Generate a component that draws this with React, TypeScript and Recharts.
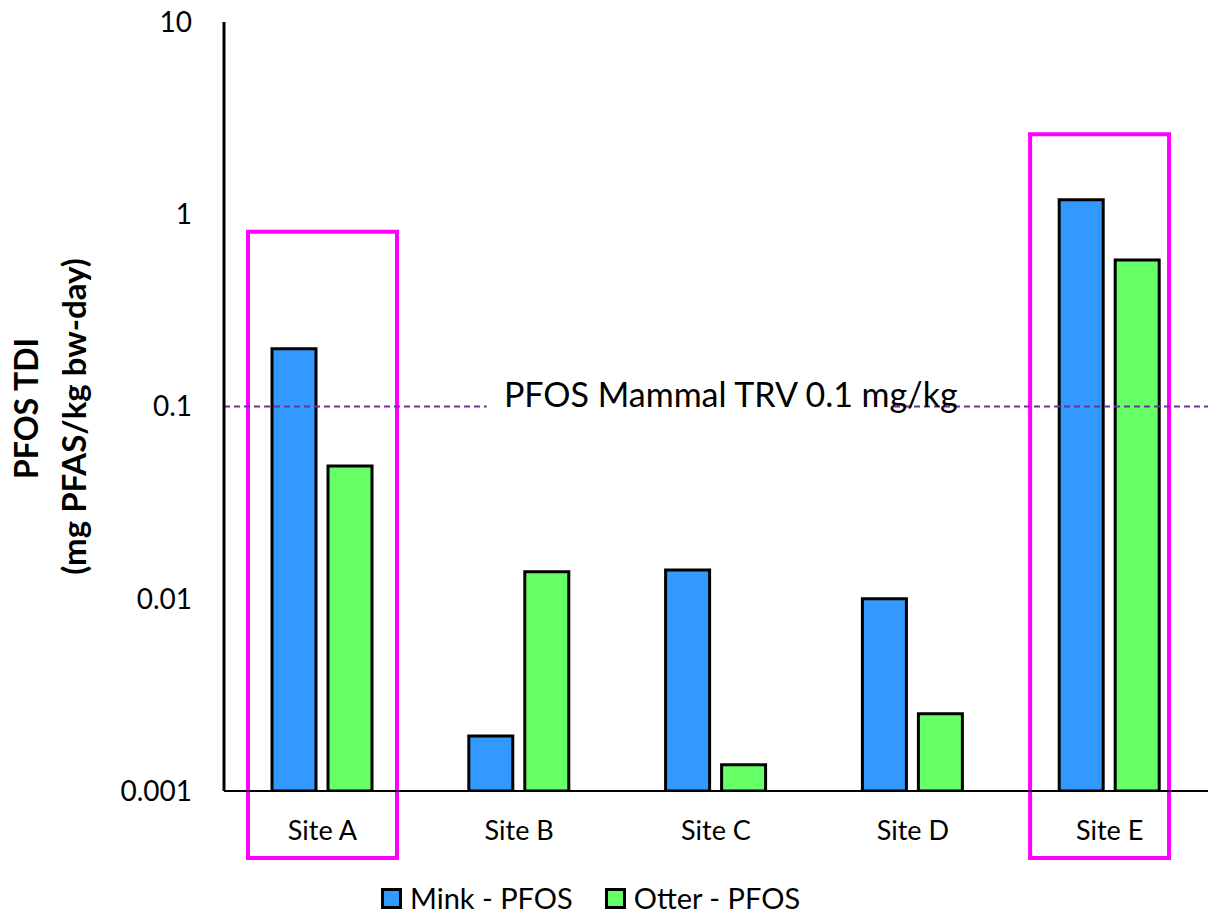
import React from 'react';
import { BarChart, Bar, XAxis, YAxis, ReferenceLine, ReferenceArea, Legend } from 'recharts';

const sites = ['Site A', 'Site B', 'Site C', 'Site D', 'Site E'];
const siteIndex = [0, 1, 2, 3, 4];
const minkPFOS = [0.2, 0.00193, 0.0141, 0.01, 1.19];
const otterPFOS = [0.049, 0.0138, 0.00137, 0.00252, 0.578];
const yTicks = [0.001, 0.01, 0.1, 1, 10];
const trvValue = 0.1;
const trvLabel = 'PFOS Mammal TRV 0.1 mg/kg';
const highlightA = { x1: -0.378, x2: 0.379, y1: 0.000448, y2: 0.81 };
const highlightE = { x1: 3.596, x2: 4.302, y1: 0.000448, y2: 2.61 };

const data = sites.map((s, i) => ({ site: s, idx: siteIndex[i], mink: minkPFOS[i], otter: otterPFOS[i] }));

const FONT = 'Lato, "Open Sans", sans-serif';
const BLUE = '#3399FF';
const GREEN = '#66FF66';

const TrvLabel = (props: any) => {
  const vb = props.viewBox || {};
  const x = vb.x ?? 0;
  const y = vb.y ?? 0;
  const w = vb.width ?? 0;
  return (
    <g>
      <rect x={x + w * 0.267} y={y - 8} width={w * 0.41} height={16} fill="#ffffff" />
      <text x={x + w * 0.515} y={y} textAnchor="middle" fontFamily={FONT} fontSize={34} fill="#000">
        {trvLabel}
      </text>
    </g>
  );
};

const YLabel = (props: any) => {
  const vb = props.viewBox || {};
  const cy = (vb.y ?? 0) + (vb.height ?? 0) / 2;
  return (
    <g fontFamily={FONT} fontWeight="bold" fontSize={32} fill="#000">
      <text x={25} y={cy + 2} transform={`rotate(-90, 25, ${cy + 2})`} textAnchor="middle" dominantBaseline="central">
        PFOS TDI
      </text>
      <text x={73} y={cy + 10} transform={`rotate(-90, 73, ${cy + 10})`} textAnchor="middle" dominantBaseline="central" fontSize={33}>
        (mg PFAS/kg bw-day)
      </text>
    </g>
  );
};

const LegendContent = () => (
  <div style={{ display: 'flex', alignItems: 'center', fontFamily: FONT, fontSize: 29, color: '#000', lineHeight: '32px', whiteSpace: 'nowrap' }}>
    <span style={{ width: 15, height: 15, border: '3px solid #000', background: BLUE, display: 'inline-block', marginRight: 8 }} />
    <span style={{ marginRight: 32 }}>Mink - PFOS</span>
    <span style={{ width: 15, height: 15, border: '3px solid #000', background: GREEN, display: 'inline-block', marginRight: 8 }} />
    <span>Otter - PFOS</span>
  </div>
);

export default function App() {
  return (
    <div style={{ position: 'absolute', left: 0, top: 0, background: '#fff' }}>
      <BarChart
        width={1216}
        height={914}
        data={data}
        margin={{ top: 22, right: 8, left: 0, bottom: 0 }}
        barSize={44}
        barGap={12}
      >
        <XAxis
          dataKey="site"
          axisLine={{ stroke: '#000', strokeWidth: 2 }}
          tickLine={false}
          tickSize={0}
          tickMargin={30}
          height={77}
          tick={{ fill: '#000', fontSize: 27, fontFamily: FONT }}
        />
        <XAxis xAxisId="pos" dataKey="idx" type="number" domain={[-0.5, 4.5]} hide allowDataOverflow />
        <YAxis
          scale="log"
          domain={[0.001, 10]}
          ticks={yTicks}
          allowDataOverflow
          width={224}
          axisLine={{ stroke: '#000', strokeWidth: 3 }}
          tickLine={false}
          tickSize={0}
          tickMargin={32}
          tick={{ fill: '#000', fontSize: 28, fontFamily: FONT }}
          tickFormatter={(v: number) => String(v)}
          label={<YLabel />}
        />
        <Bar dataKey="mink" name="Mink - PFOS" fill={BLUE} stroke="#000" strokeWidth={3} isAnimationActive={false} />
        <Bar dataKey="otter" name="Otter - PFOS" fill={GREEN} stroke="#000" strokeWidth={3} isAnimationActive={false} />
        <ReferenceLine
          y={trvValue}
          stroke="#7030A0"
          strokeWidth={2}
          strokeDasharray="6 4"
          label={<TrvLabel />}
        />
        <ReferenceArea
          xAxisId="pos"
          x1={highlightA.x1}
          x2={highlightA.x2}
          y1={highlightA.y1}
          y2={highlightA.y2}
          fill="none"
          fillOpacity={0}
          stroke="#FF00FF"
          strokeWidth={4}
          ifOverflow="visible"
        />
        <ReferenceArea
          xAxisId="pos"
          x1={highlightE.x1}
          x2={highlightE.x2}
          y1={highlightE.y1}
          y2={highlightE.y2}
          fill="none"
          fillOpacity={0}
          stroke="#FF00FF"
          strokeWidth={4}
          ifOverflow="visible"
        />
        <Legend
          height={46}
          content={<LegendContent />}
          wrapperStyle={{ left: 381, top: 882, width: 'auto' }}
        />
      </BarChart>
    </div>
  );
}
